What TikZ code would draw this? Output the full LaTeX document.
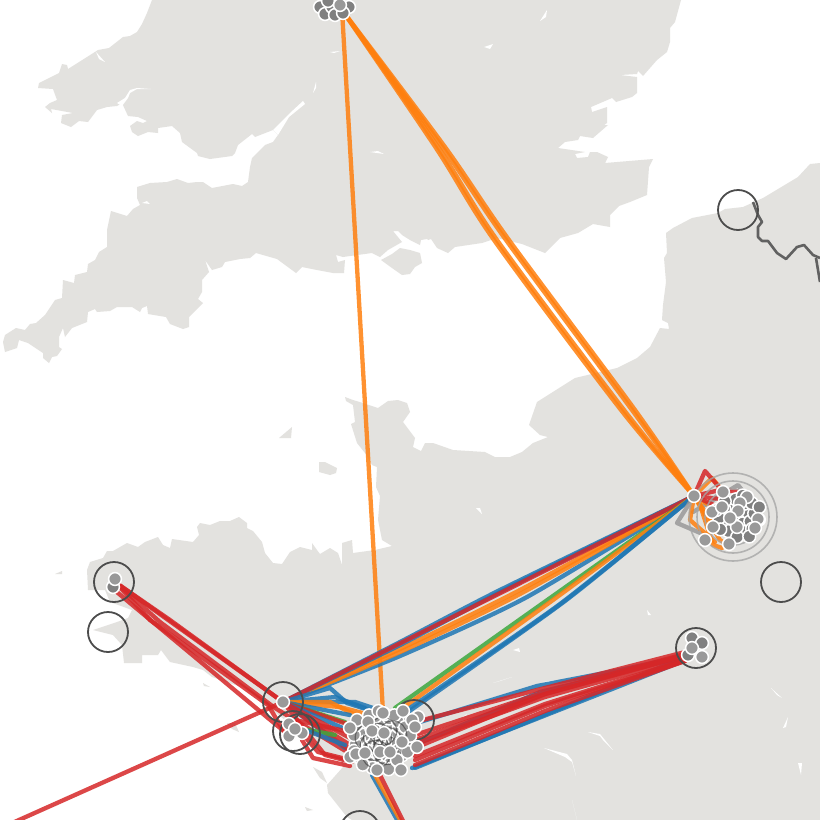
\documentclass[tikz,border=0pt]{standalone}
\usetikzlibrary{calc}
\definecolor{landc}{HTML}{E3E2DF}
\definecolor{ored}{HTML}{D62728}
\definecolor{oblue}{HTML}{1F77B4}
\definecolor{oorange}{HTML}{FF7F0E}
\definecolor{ogreen}{HTML}{3DA83D}
\tikzset{
 land/.style={fill=landc},
 sea/.style={fill=white},
 conn/.style={line width=4.3mm,opacity=.85,line join=round,line cap=round},
 rd/.style={conn,draw=ored},
 bl/.style={conn,draw=oblue},
 og/.style={conn,draw=oorange},
 gn/.style={conn,draw=ogreen},
 gy/.style={conn,draw=black!40},
 ring/.style={draw=black!70,line width=1.8mm},
 thinring/.style={draw=black!80,line width=1.2mm,opacity=.55},
 halo/.style={draw=black!35,line width=1.6mm,opacity=.8},
 border/.style={draw=black!62,line width=2.6mm,line join=round},
 station/.style={circle,fill=black!40,draw=white,line width=1.5mm,minimum size=12.8mm,inner sep=0pt},
 under/.style={station,fill=black!50}
}
\begin{document}
\begin{tikzpicture}[x=1mm,y=-1mm]
\useasboundingbox (0,0) rectangle (820,820);
\clip (0,0) rectangle (820,820);
\fill[white] (0,0) rectangle (820,820);
% Britain
\fill[land] plot coordinates {(152,0)(147,13)(142,24)(137,32)(130,36)(123,37)(109,48)(98,50)(87,57)(68,69)(67,65)(62,64)(59,73)(39,83)(38,88)(53,89)(57,100)(50,103)(45,107)(52,113)(51,109)(73,113)(62,115)(61,123)(71,127)(79,121)(88,122)(97,110)(107,107)(117,106)(122,103)(128,116)(138,117)(147,121)(143,123)(137,121)(130,126)(132,132)(138,136)(148,132)(158,133)(158,128)(172,126)(180,133)(182,142)(197,153)(198,156)(210,159)(232,156)(235,153)(238,145)(252,134)(255,137)(273,130)(278,135)(273,142)(265,145)(252,158)(250,167)(248,182)(242,186)(233,184)(212,188)(203,182)(197,182)(188,183)(177,179)(167,182)(150,183)(137,187)(137,198)(140,205)(133,209)(127,216)(111,211)(107,230)(107,247)(99,252)(95,260)(88,264)(87,272)(75,275)(74,283)(63,280)(62,298)(55,300)(45,315)(36,323)(30,324)(25,330)(16,328)(5,335)(3,342)(5,352)(17,348)(19,340)(28,343)(43,353)(43,358)(49,363)(52,357)(57,356)(62,349)(59,347)(59,337)(63,328)(65,337)(72,328)(82,324)(87,322)(88,312)(95,309)(97,312)(110,311)(117,307)(132,307)(140,312)(142,308)(147,306)(148,314)(166,317)(170,324)(183,329)(189,327)(189,317)(203,303)(198,299)(202,292)(202,280)(209,272)(205,260)(212,270)(222,267)(225,262)(240,259)(250,258)(256,253)(277,259)(296,273)(302,267)(317,270)(333,273)(344,273)(345,260)(338,262)(336,255)(343,257)(372,253)(380,257)(388,250)(402,242)(393,231)(398,231)(402,235)(410,240)(420,245)(421,240)(427,239)(428,240)(431,239)(437,248)(448,253)(455,247)(482,243)(497,238)(522,244)(545,253)(560,238)(578,233)(593,224)(610,227)(610,215)(619,206)(630,202)(647,195)(649,167)(653,159)(617,162)(605,163)(608,157)(597,152)(590,152)(588,157)(577,158)(575,154)(585,152)(558,148)(565,142)(578,140)(580,136)(593,138)(608,125)(597,125)(600,128)(607,123)(607,107)(592,112)(591,107)(612,98)(616,102)(632,97)(637,93)(637,77)(620,75)(637,74)(638,71)(643,76)(657,60)(667,52)(670,42)(670,28)(675,22)(681,0)} -- cycle;
% Isle of Wight
\fill[land] plot coordinates {(381,260)(392,254)(400,248)(410,250)(420,253)(422,263)(415,267)(410,274)(402,275)(392,268)} -- cycle;
% France
\fill[land] plot coordinates {(820,163)(810,164)(798,177)(763,198)(743,207)(725,209)(718,213)(692,218)(673,228)(666,233)(667,253)(664,258)(666,282)(663,305)(662,320)(668,323)(669,329)(660,328)(650,347)(637,358)(617,368)(575,378)(537,402)(529,425)(540,435)(548,437)(533,443)(522,452)(510,457)(495,457)(485,452)(453,450)(433,443)(425,443)(421,451)(413,447)(415,438)(403,422)(410,412)(407,403)(398,400)(388,401)(378,408)(363,403)(353,400)(345,397)(346,401)(353,405)(355,422)(351,424)(357,443)(365,453)(372,465)(377,467)(376,487)(380,496)(378,520)(382,540)(392,546)(375,550)(353,553)(352,540)(342,543)(342,565)(338,553)(330,548)(320,554)(317,550)(312,543)(312,550)(300,547)(290,552)(282,564)(273,563)(265,553)(262,542)(253,531)(247,528)(247,523)(239,517)(230,521)(220,521)(210,525)(200,523)(197,527)(199,535)(193,542)(172,539)(170,548)(163,545)(158,537)(145,542)(138,547)(127,543)(113,551)(107,551)(103,558)(90,562)(87,570)(88,590)(105,590)(110,602)(132,610)(128,618)(117,622)(93,630)(113,635)(122,645)(124,663)(142,663)(142,655)(158,655)(161,650)(170,662)(193,667)(203,670)(212,677)(250,690)(263,703)(285,720)(310,745)(340,760)(343,767)(327,785)(328,793)(347,817)(352,820)(820,820)} -- cycle;
% Islands
\fill[land] (55,574) -- (62,571) -- (62,574) -- cycle;
\fill[land] (279,438) -- (292,427) -- (291,438) -- cycle;
\fill[land] plot coordinates {(319,462)(325,462)(337,468)(336,473)(330,475)(319,472)} -- cycle;
\fill[land] (227,723) -- (235,723) -- (239,732) -- (232,729) -- cycle;
\fill[land] (203,683) -- (210,687) -- (204,686) -- cycle;
\fill[land] (313,767) -- (322,772) -- (327,783) -- (320,778) -- cycle;
\fill[land] (305,807) -- (313,810) -- (307,811) -- cycle;
% Water inside the land
\fill[sea] plot coordinates {(96,52)(105,62)(99,59)} -- cycle;
\fill[sea] plot coordinates {(330,52)(340,51)(334,53)} -- cycle;
\fill[sea] plot coordinates {(313,93)(316,82)(316,88)} -- cycle;
\fill[sea] plot coordinates {(273,130)(278,135)(289,117)(305,104)(303,101)(290,113)} -- cycle;
\fill[sea] plot coordinates {(370,152)(378,151)(384,154)} -- cycle;
\fill[sea] plot coordinates {(484,47)(493,44)(490,49)} -- cycle;
\fill[sea] plot coordinates {(540,21)(547,10)(546,17)} -- cycle;
\fill[sea] plot coordinates {(117,103)(125,98)(130,90)(137,88)(151,89)(137,89)(130,93)(128,98)(122,106)} -- cycle;
\fill[sea] plot coordinates {(298,277)(302,282)(299,283)} -- cycle;
\fill[sea] plot coordinates {(142,203)(147,201)(150,204)} -- cycle;
\fill[sea] plot coordinates {(649,167)(652,193)(650,193)} -- cycle;
\fill[sea] plot coordinates {(647,610)(651,615)(648,615)} -- cycle;
\fill[sea] plot coordinates {(513,650)(519,648)(520,652)} -- cycle;
\fill[sea] plot coordinates {(493,683)(512,677)(500,681)} -- cycle;
\fill[sea] plot coordinates {(543,682)(557,680)(546,683)} -- cycle;
\fill[sea] plot coordinates {(458,720)(467,714)(463,718)} -- cycle;
\fill[sea] plot coordinates {(544,748)(567,754)(572,760)(576,776)(572,762)(565,757)} -- cycle;
\fill[sea] plot coordinates {(588,732)(600,734)(613,750)(603,740)(600,736)} -- cycle;
\fill[sea] plot coordinates {(771,688)(782,698)(777,695)} -- cycle;
\fill[sea] plot coordinates {(788,717)(783,728)(786,727)} -- cycle;
\fill[sea] plot coordinates {(798,763)(802,763)(801,775)} -- cycle;
\fill[sea] plot coordinates {(572,800)(577,820)(574,808)} -- cycle;
\fill[sea] plot coordinates {(476,508)(480,508)(482,514)} -- cycle;
% Border
\draw[border] (753,202) -- (758,215) -- (762,222) -- (758,227) -- (758,237) -- (762,241) -- (768,241) -- (777,253) -- (786,259) -- (797,247) -- (804,245) -- (813,255) -- (820,258);
\draw[border] (816,258) -- (817,264) -- (820,282);
% Anchors
\coordinate (lon) at (342,10);
\coordinate (par) at (694,496);
\coordinate (ren) at (283,702);
\coordinate (bre) at (115,582);
\coordinate (nte) at (383,712);
\coordinate (nte3) at (410,725);
\coordinate (nte4) at (412,768);
\coordinate (bdx) at (690,655);
\coordinate (sw) at (10,824);
\coordinate (ss) at (400,825);
% London to the west of France and to Paris
\draw[og] (lon) -- (nte);
\draw[og] plot[smooth,tension=.5] coordinates {(lon)(436,148)(494,240)(621,410)(par)};
\draw[og] plot[smooth,tension=.5] coordinates {(lon)(438,147)(497,240)(624,410)(par)};
\draw[og] plot[smooth,tension=.5] coordinates {(lon)(443,148)(506,240)(632,410)(par)};
\draw[og] plot[smooth,tension=.5] coordinates {(lon)(445,147)(509,240)(635,410)(par)};
% Paris bundles
\draw[bl] plot[smooth,tension=.4] coordinates {(ren)(400,656)(527,597)(par)};
\draw[og] plot[smooth,tension=.4] coordinates {(ren)(400,649)(520,590)(par)};
\draw[og] plot[smooth,tension=.4] coordinates {(ren)(400,652)(520,594)(par)};
\draw[bl] plot[smooth,tension=.4] coordinates {(ren)(400,645)(510,587)(par)};
\draw[bl] plot[smooth,tension=.4] coordinates {(ren)(400,642)(500,590)(par)};
\draw[rd] (ren) -- (par);
\draw[gn] ($(nte)+(12,-4)$) -- (par);
\draw[og] plot[smooth,tension=.4] coordinates {($(nte)+(17,-2)$)(553,600)(par)};
\draw[bl] plot[smooth,tension=.4] coordinates {($(nte)+(25,0)$)(565,601)(par)};
\draw[bl] plot[smooth,tension=.4] coordinates {($(nte)+(21,0)$)(560,604)(par)};
% Cluster to the east
\draw[bl] (nte4) -- (683,661) -- (bdx);
\draw[bl] (nte3) -- (537,686) -- (620,670) -- (bdx);
\draw[bl] (415,745) -- (540,692) -- (bdx);
\draw[bl] (415,768) -- (600,692) -- (bdx);
\foreach \a/\b/\c in {735/692/654,740/694/656,744/697/658,748/694/655,756/704/660,760/706/661,765/711/661} {
  \draw[rd] (415,\a) -- (545,\b) -- (685,\c);
}
\draw[rd] (415,722) -- (537,690) -- (685,652);
% Brest
\draw[rd] (bre) -- (ren);
\draw[rd] (bre) -- (170,620) -- (ren);
\draw[rd] (bre) -- (160,622) -- (275,708) -- (352,755);
\draw[rd] (bre) -- (150,620) -- (268,705) -- (283,730);
\draw[rd] (112,588) -- (268,718) -- (285,732);
% Far south-west
\draw[rd] (sw) -- (ren);
% Rennes fan
\draw[bl] (ren) -- (330,688) -- (347,703) -- (375,712);
\draw[bl] (ren) -- (355,702) -- (385,712);
\draw[bl] (ren) -- (335,697) -- (365,708);
\draw[og] (ren) -- (340,707) -- (370,715);
\draw[og] (ren) -- (330,702) -- (355,715);
\draw[bl] (ren) -- (350,715);
\draw[gn] (ren) -- (345,722);
\draw[rd] (ren) -- (350,725);
\draw[bl] (ren) -- (352,732);
\draw[rd] (ren) -- (350,738);
\draw[rd] (ren) -- (350,745);
\draw[bl] (ren) -- (345,748);
\draw[rd] (ren) -- (352,752);
\draw[rd] (ren) -- (325,755) -- (352,762);
\draw[rd] (295,720) -- (350,732);
\draw[gn] (298,728) -- (335,735);
\draw[bl] (305,730) -- (345,745);
% South-coast links below the small cluster
\draw[rd] (302,740) -- (313,758) -- (350,766);
\draw[rd] (306,738) -- (318,752) -- (350,760);
% Southward from the big cluster
\draw[bl] (372,775) -- (ss);
\draw[og] (375,775) -- (403,825);
\draw[rd] (380,775) -- (405,825);
% Paris, local lines
\draw[gy] (par) -- (677,523) -- (705,535);
\draw[gy] (693,512) -- (738,485) -- (750,500);
\draw[og] (par) -- (712,478) -- (726,495);
\draw[og] (par) -- (700,505) -- (713,545) -- (722,548);
\draw[og] (par) -- (690,520) -- (715,542);
\draw[og] (par) -- (718,530);
\draw[og] (par) -- (725,515);
\draw[og] (par) -- (720,540) -- (728,545);
\draw[rd] (par) -- (705,471) -- (720,488);
\draw[rd] (par) -- (720,490) -- (745,492);
\draw[rd] (par) -- (730,500);
\draw[rd] (par) -- (725,510);
% Rings
\foreach \r in {44,36,28} { \draw[halo] (733,517) circle[radius=\r]; }
\draw[ring] (738,210) circle[radius=20];
\draw[ring] (781,582) circle[radius=20];
\draw[ring] (114,582) circle[radius=20];
\draw[ring] (108,632) circle[radius=20];
\draw[ring] (696,648) circle[radius=20];
\draw[ring] (283,702) circle[radius=20];
\draw[ring] (293,731) circle[radius=20];
\draw[ring] (300,734) circle[radius=20];
\draw[ring] (414,720) circle[radius=20];
\draw[ring] (360,831) circle[radius=20];
% Stations
\foreach \n/\x/\y in {l1/320/7,l2/325/14,l3/332/7,l4/335/15,l5/328/1,l6/349/7,l7/343/13} { \node[under] (\n) at (\x,\y) {}; }
\node[station] (l8) at (340,5) {};
\node[under] (b2) at (113,587) {};
\node[station] (b1) at (115,579) {};
\node[under] (d1) at (692,638) {};
\node[under] (d2) at (702,643) {};
\node[under] (d3) at (688,655) {};
\node[station] (d4) at (692,648) {};
\node[station] (d5) at (702,657) {};
\node[station] (s1) at (289,724) {};
\node[station] (s2) at (289,736) {};
\node[station] (s3) at (302,733) {};
\node[station] (s4) at (295,729) {};
\node[station] (renN) at (ren) {};
% Big cluster: rings, packed stations, then front stations
\foreach \i in {1,...,16} {
  \pgfmathsetmacro{\rr}{3.2*sqrt(\i)}
  \pgfmathsetmacro{\aa}{137.5*\i+40}
  \draw[thinring] ($(381,741)+(\aa:\rr)$) circle[radius=20];
}
\foreach \i in {1,...,70} {
  \pgfmathsetmacro{\rr}{3.6*sqrt(\i)}
  \pgfmathsetmacro{\aa}{137.5*\i}
  \node[station] (c\i) at ($(381,741)+(\aa:\rr)$) {};
}
\foreach \i in {1,...,8} {
  \pgfmathsetmacro{\rr}{5*sqrt(\i)}
  \pgfmathsetmacro{\aa}{137.5*\i+90}
  \draw[thinring] ($(381,741)+(\aa:\rr)$) circle[radius=14];
}
\foreach \n/\x/\y in {e1/350/757,e2/356/754,e3/357/720,e4/350/728,e5/418/717,e6/412/720,e7/403/711,e8/415/727,e9/417/747,e10/402/742,e11/397/760,e12/383/713,e13/401/770,e14/377/770,e15/365/753,e16/380/752,e17/390/752,e18/368/722,e19/372/731,e20/384/733} { \node[station] (\n) at (\x,\y) {}; }
% Lille cluster stations
\foreach \i in {1,...,26} {
  \pgfmathsetmacro{\rr}{4.6*sqrt(\i)}
  \pgfmathsetmacro{\aa}{137.5*\i}
  \node[under] (g\i) at ($(738,517)+(\aa:\rr)$) {};
}
\foreach \n/\x/\y in {h1/729/544,h2/723/492,h3/747/497,h4/758/519,h5/755/528,h6/712/512,h7/713/527,h8/722/507,h9/740/503,h10/738/511,h11/737/527,h12/730/518} { \node[station] (\n) at (\x,\y) {}; }
\node[station] (h13) at (705,540) {};
\node[station] (parN) at (par) {};
\end{tikzpicture}
\end{document}
